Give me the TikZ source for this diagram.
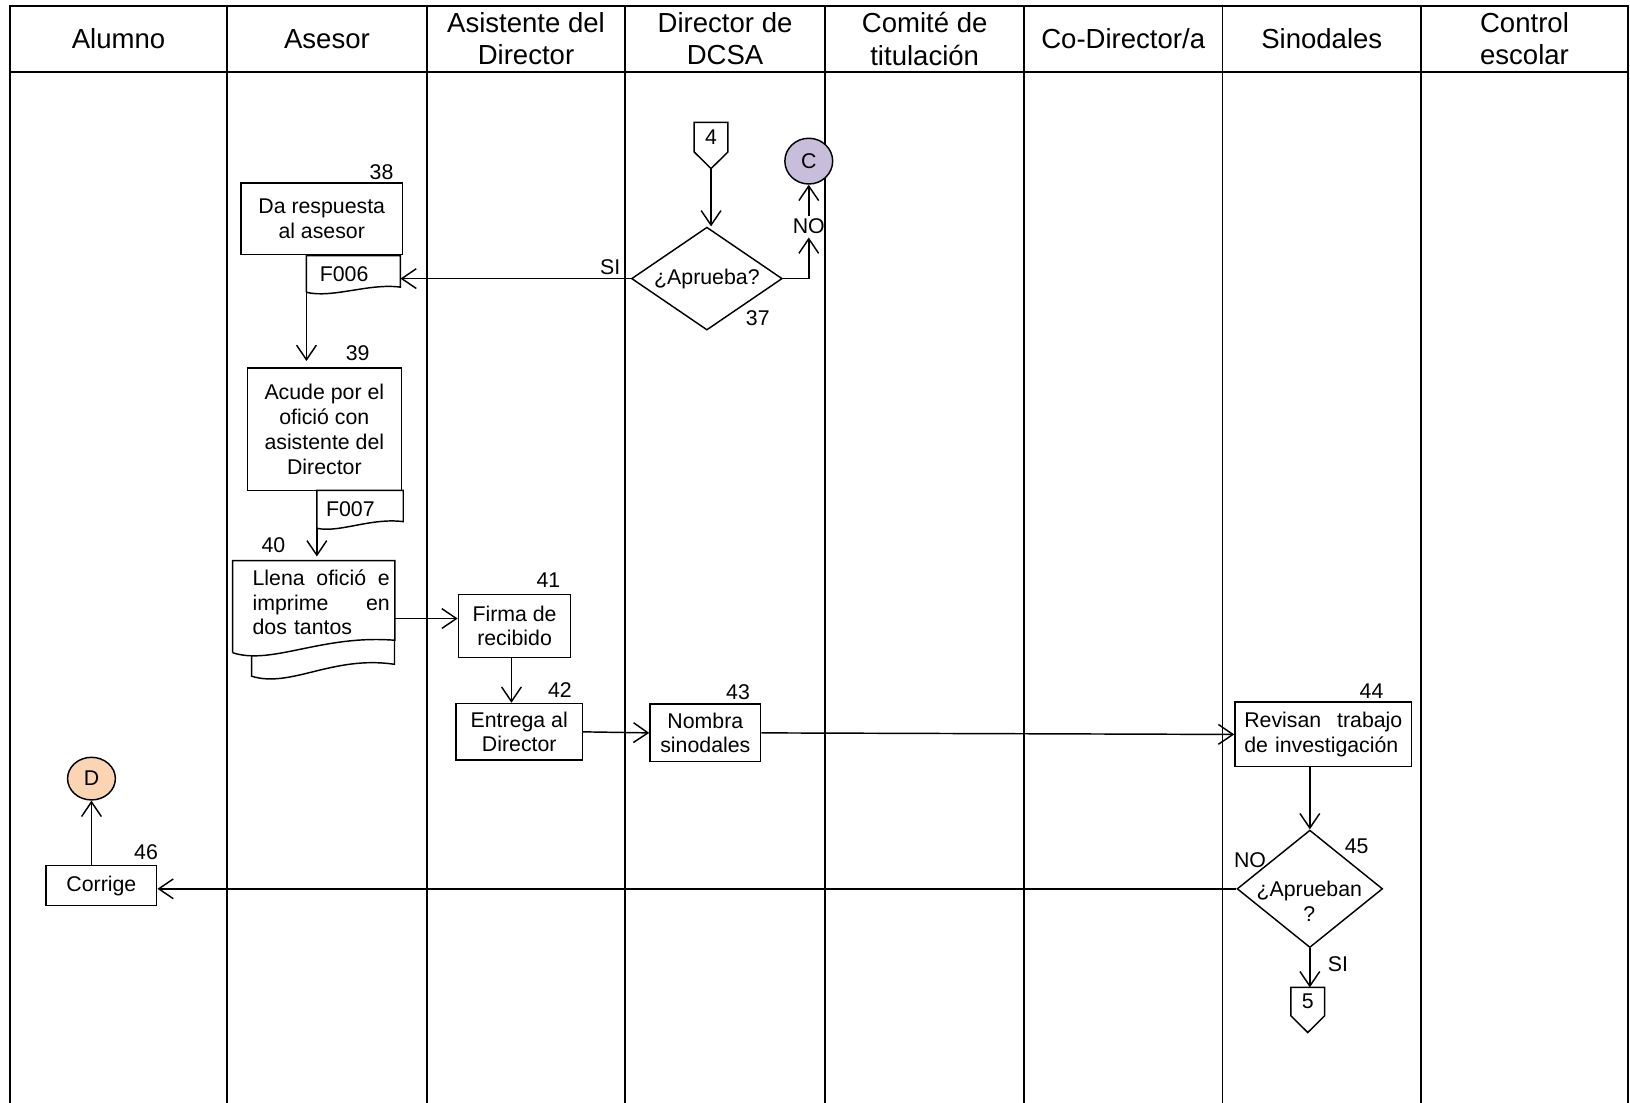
\documentclass[tikz,border=0pt]{standalone}
\usepackage{fontspec}
\setmainfont{Liberation Sans}
\usetikzlibrary{arrows.meta,shapes.geometric,calc}

\definecolor{circC}{RGB}{200,190,220}
\definecolor{circD}{RGB}{251,212,180}

\newcommand{\hdrfont}{\fontsize{26.5}{31}\selectfont}
\newcommand{\bodyfont}{\fontsize{20.5}{23.8}\selectfont}

\tikzset{
  lane/.style={line width=1.8pt, line cap=rect},
  proc/.style={draw, line width=1.4pt, rectangle, inner sep=0pt, align=center, font=\bodyfont},
  hdr/.style={align=center, font=\hdrfont, inner sep=0pt},
  lbl/.style={font=\bodyfont, inner sep=0pt},
  txt/.style={font=\bodyfont, inner sep=0pt, align=center},
  flow/.style={line width=1.4pt, -{Straight Barb[length=14pt,width=19pt]}},
  wire/.style={line width=1.4pt},
  decision/.style={diamond, draw, line width=1.4pt, inner sep=0pt, aspect=1.4},
  conn/.style={ellipse, draw, line width=1.4pt, inner sep=0pt, font=\bodyfont},
  pagebox/.style={rectangle, inner sep=0pt, font=\bodyfont, minimum width=32pt, minimum height=28pt},
  docarea/.style={rectangle, inner sep=0pt, draw=none},
}

\begin{document}
\begin{tikzpicture}[x=1pt,y=-1pt]
\useasboundingbox (0,0) rectangle (1568,1061);
\fill[white] (0,0) rectangle (1568,1061);

% swimlane frame
\draw[lane] (10,6) -- (1566,6);
\draw[lane] (10,69) -- (1566,69);
\foreach \x in {10,218,411,601,794,985,1176,1367,1566}
  \draw[lane] (\x,6) -- (\x,1061);

% lane titles
\node[hdr] (hAlumno)   at (114,37.5)    {Alumno};
\node[hdr] (hAsesor)   at (314.5,37.5)  {Asesor};
\node[hdr] (hAsist)    at (506,37.5)    {Asistente del\\Director};
\node[hdr] (hDirector) at (697.5,37.5)  {Director de\\DCSA};
\node[hdr] (hComite)   at (889.5,37.5)  {Comité de\\titulación};
\node[hdr] (hCoDir)    at (1080.5,37.5) {Co-Director/a};
\node[hdr] (hSinod)    at (1271.5,37.5) {Sinodales};
\node[hdr] (hControl)  at (1466.5,37.5) {Control\\escolar};

% off-page connector 4
\node[pagebox] (c4) at (684,132) {4};
\coordinate (c4tip) at ($(c4.south)+(0,-16pt)$);
\draw[wire] (c4.south west) -- (c4.north west) -- (c4.north east) -- (c4.south east) -- (c4tip) -- cycle;

% decision 37
\node[decision, minimum width=145pt, minimum height=99pt, font=\bodyfont] (d37) at (680,268) {¿Aprueba?};
\node[lbl] (n37) at (729,306) {37};
\draw[flow] (c4tip) -- (c4tip |- d37.north);

% connector C
\node[conn, fill=circC, minimum width=46pt, minimum height=44pt] (cC) at (778,155) {C};
\node[lbl, inner sep=3pt] (no37) at (778,218) {NO};
\draw[flow] (d37.east) -- (d37.east -| no37) -- (no37.south);
\draw[flow] (no37.north) -- (cC.south);

% step 38 with form F006
\node[proc, minimum width=155pt, minimum height=69pt] (b38) at (309.5,210.5) {Da respuesta\\al asesor};
\node[lbl] (n38) at (367,166) {38};
\node[docarea, minimum width=90pt, minimum height=30pt] (f006) at (340,261) {};
\draw[wire, shift={(f006.south west)}] (0,5) -- (f006.north west) -- (f006.north east) -- (f006.south east)
  .. controls (60,-4) and (25,11) .. (0,5);
\node[lbl] (t006) at (331,264) {F006};
\node[lbl] (si37) at (587,257) {SI};
\draw[flow] (d37.west) -- (d37.west -| f006.east);

% step 39 with form F007
\node[proc, minimum width=148pt, minimum height=118pt] (b39) at (312,413) {Acude por el\\ofició con\\asistente del\\Director};
\node[lbl] (n39) at (344,340) {39};
\coordinate (f006tail) at ($(f006.south west)+(0,-5pt)$);
\draw[flow, shorten >=6pt] (f006tail) -- (f006tail |- b39.north);

\node[docarea, minimum width=82.7pt, minimum height=29.6pt] (f007) at (346.35,486.8) {};
\draw[wire, shift={(f007.south west)}] (0,6.4) -- (f007.north west) -- (f007.north east) -- (f007.south east)
  .. controls (52,-4) and (22,11) .. (0,6.4);
\node[lbl] (t007) at (337,490) {F007};

% step 40: printed documents
\node[lbl] (n40) at (263,524) {40};
\node[docarea, minimum width=155.7pt, minimum height=76.2pt] (b40) at (301.85,577.6) {};
\coordinate (f007tail) at ($(f007.south west)+(0,-6.4pt)$);
\draw[flow, shorten >=4pt] (f007tail) -- (f007tail |- b40.north);
\draw[wire, shift={(b40.south west)}] (18.3,14.8) -- (18.3,34.6)
  .. controls (56,46.3) and (96,14.3) .. (155.7,23.1) -- (155.7,0);
\draw[wire, shift={(b40.south west)}] (0,12) -- (b40.north west) -- (b40.north east) -- (b40.south east)
  .. controls (86,-5.7) and (38,24.3) .. (0,12);
\node[txt, text width=132pt, align=left, font=\fontsize{20.5}{23.5}\selectfont] (t40) at (309,579.5)
  {\makebox[132pt][s]{Llena\hfill ofició\hfill e}\\\makebox[132pt][s]{imprime\hfill en}\\dos tantos};

% step 41
\node[proc, minimum width=108pt, minimum height=60.5pt] (b41) at (495,602) {Firma de\\recibido};
\node[lbl] (n41) at (527.5,558) {41};
\coordinate (a41) at ($(b41.west)+(0,7pt)$);
\draw[flow] (a41 -| b40.east) -- (a41);

% step 42
\node[proc, minimum width=121.5pt, minimum height=54.5pt] (b42) at (499.5,704) {Entrega al\\Director};
\node[lbl] (n42) at (538.6,663.8) {42};
\draw[flow] ([xshift=-3pt]b41.south) -- ([xshift=-3pt]b41.south |- b42.north);

% step 43
\node[proc, minimum width=106.4pt, minimum height=55.5pt] (b43) at (678.5,705) {Nombra\\sinodales};
\node[lbl] (n43) at (710,665.4) {43};
\draw[flow] (b42.east) -- (b43.west);

% step 44
\node[proc, minimum width=170pt, minimum height=62pt, text width=152pt, align=left] (b44) at (1273,706.5)
  {\makebox[152pt][s]{Revisan\hfill trabajo}\\de investigación};
\node[lbl] (n44) at (1319.4,664.4) {44};
\draw[flow] (b43.east) -- (b44.west);

% decision 45
\node[decision, minimum width=140pt, minimum height=113pt] (d45) at (1260,855) {};
\node[txt] (t45) at (1259.5,867) {¿Aprueban\\?};
\node[lbl] (n45) at (1305,814.5) {45};
\node[lbl] (no45) at (1202.5,827) {NO};
\draw[flow] (d45.north |- b44.south) -- (d45.north);

% off-page connector 5
\node[pagebox, minimum height=27pt] (c5) at (1258,963.5) {5};
\coordinate (c5tip) at ($(c5.south)+(0,-16pt)$);
\draw[wire] (c5.south west) -- (c5.north west) -- (c5.north east) -- (c5.south east) -- (c5tip) -- cycle;
\node[lbl] (si45) at (1287,927) {SI};
\draw[flow] (d45.south) -- (d45.south |- c5.north);

% step 46 and connector D
\node[proc, minimum width=106.5pt, minimum height=38.6pt] (b46) at (97.5,852) {Corrige};
\node[lbl] (n46) at (140.5,820) {46};
\draw[flow] (d45.west) -- (d45.west -| b46.east);
\node[conn, fill=circD, minimum width=46pt, minimum height=41pt] (cD) at (88,749) {D};
\draw[flow] (cD.south |- b46.north) -- (cD.south);

\end{tikzpicture}
\end{document}
